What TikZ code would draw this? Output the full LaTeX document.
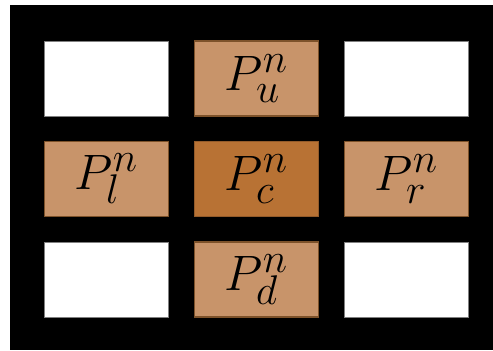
\documentclass[tikz,border=0pt]{standalone}
\usepackage{tikz}
\usetikzlibrary{positioning}
\definecolor{tilelight}{RGB}{200,148,106}
\definecolor{tiledark}{RGB}{184,114,52}
\definecolor{tileedge}{RGB}{125,82,42}
\tikzset{
  tile/.style={rectangle,minimum width=62pt,minimum height=37.5pt,inner sep=0pt,font=\Huge},
  emptytile/.style={tile,fill=white,draw=gray,line width=.4pt},
  neighbourtile/.style={tile,fill=tilelight,draw=tileedge,line width=.6pt}
}

\begin{document}
\begin{tikzpicture}[
  x=.5pt,
  y=-.5pt,
  node distance=12.25pt and 12.5pt,
  centretile/.style={
    tile,
    fill=tiledark,
    draw=tiledark!80!black,
    line width=.4pt
  }
]

  % --------------------------------------------------------------
  % The board behind the stencil.
  % --------------------------------------------------------------
  \useasboundingbox (0,0) rectangle (493,350);
  \fill[black] (9.5,5) rectangle (493,350);


  % --------------------------------------------------------------
  % Centre cell and its four neighbours.
  % --------------------------------------------------------------
  \node[centretile] (Pc) at (256.5,179) {$P_c^n$};

  \node[neighbourtile,above=of Pc] (Pu) {$P_u^n$};
  \node[neighbourtile,below=of Pc] (Pd) {$P_d^n$};
  \node[neighbourtile,left=of Pc]  (Pl) {$P_l^n$};
  \node[neighbourtile,right=of Pc] (Pr) {$P_r^n$};


  % --------------------------------------------------------------
  % Corner cells, left empty.
  % --------------------------------------------------------------
  \node[emptytile,left=of Pu]  (cUL) {};
  \node[emptytile,right=of Pu] (cUR) {};
  \node[emptytile,left=of Pd]  (cDL) {};
  \node[emptytile,right=of Pd] (cDR) {};

\end{tikzpicture}
\end{document}
